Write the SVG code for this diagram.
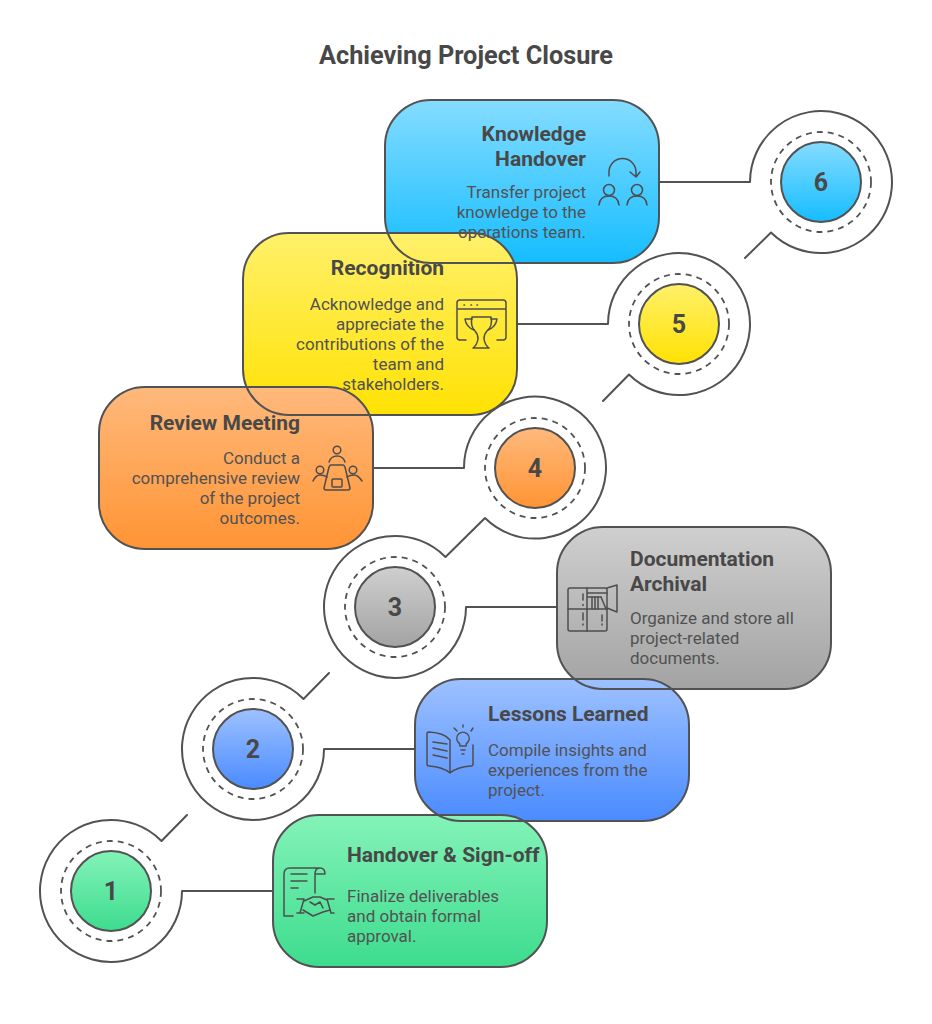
<svg xmlns="http://www.w3.org/2000/svg" width="932" height="1024" viewBox="0 0 932 1024">
<defs>
<linearGradient id="gGreen" x1="0" y1="0" x2="0" y2="1"><stop offset="0" stop-color="#84f3b8"/><stop offset="1" stop-color="#3ddc8e"/></linearGradient>
<linearGradient id="gBlue" x1="0" y1="0" x2="0" y2="1"><stop offset="0" stop-color="#9dc1ff"/><stop offset="1" stop-color="#4a8bff"/></linearGradient>
<linearGradient id="gGray" x1="0" y1="0" x2="0" y2="1"><stop offset="0" stop-color="#cfcfcf"/><stop offset="1" stop-color="#a3a3a3"/></linearGradient>
<linearGradient id="gOrange" x1="0" y1="0" x2="0" y2="1"><stop offset="0" stop-color="#ffb97c"/><stop offset="1" stop-color="#ff9434"/></linearGradient>
<linearGradient id="gYellow" x1="0" y1="0" x2="0" y2="1"><stop offset="0" stop-color="#fff06a"/><stop offset="1" stop-color="#ffe203"/></linearGradient>
<linearGradient id="gCyan" x1="0" y1="0" x2="0" y2="1"><stop offset="0" stop-color="#85dcff"/><stop offset="1" stop-color="#15bdff"/></linearGradient>
</defs>
<style>
.ln{fill:none;stroke:#525252;stroke-width:2;stroke-linecap:round;stroke-linejoin:round}
.ic{fill:none;stroke:#4d4d4d;stroke-width:1.5;stroke-linecap:round;stroke-linejoin:round}
.dash{fill:none;stroke:#525252;stroke-width:1.8;stroke-dasharray:6 5}
.c{stroke:#525252;stroke-width:2}
.t{font-family:Roboto,"Liberation Sans",sans-serif;font-weight:700;font-size:21px;fill:#484848}
.d{font-family:Roboto,"Liberation Sans",sans-serif;font-size:17px;fill:#525252}
.n{font-family:Roboto,"Liberation Sans",sans-serif;font-weight:700;font-size:25px;fill:#484848;text-anchor:middle}
.e{text-anchor:end}
</style>
<rect width="932" height="1024" fill="#fff"/>
<text x="466" y="64" text-anchor="middle" style="font-family:Roboto,'Liberation Sans',sans-serif;font-weight:700;font-size:25.300px;fill:#484848">Achieving Project Closure</text>

<g id="card-fills">
<rect x="385" y="100" width="274" height="163" rx="46" fill="url(#gCyan)"/>
<rect x="243" y="233" width="274" height="182" rx="46" fill="url(#gYellow)"/>
<rect x="99" y="387" width="274" height="162" rx="46" fill="url(#gOrange)"/>
<rect x="557" y="527" width="274" height="162" rx="46" fill="url(#gGray)"/>
<rect x="415" y="679" width="274" height="142" rx="46" fill="url(#gBlue)"/>
<rect x="273" y="815" width="274" height="152" rx="46" fill="url(#gGreen)"/>
</g>

<g id="connectors">
<path class="ln" d="M273 891H182A71 71 0 1 1 161.500 841L187 815"/>
<path class="ln" d="M415 749H324A71 71 0 1 1 303.500 699L329 673"/>
<path class="ln" d="M557 607H466A71 71 0 1 1 445.500 557L485 518A71 71 0 1 0 464 468H373"/>
<path class="ln" d="M517 324H608A71 71 0 1 1 629 374.500L603 401"/>
<path class="ln" d="M659 182H750A71 71 0 1 1 771 232.500L745 258"/>
</g>

<g id="node-1">
<rect x="273" y="815" width="274" height="152" rx="46" class="ln"/>
<circle class="dash" cx="111" cy="891" r="50"/>
<circle class="c" cx="111" cy="891" r="40" fill="url(#gGreen)"/>
<text class="n" x="111" y="900">1</text>
<text class="t" x="347" y="862">Handover &amp; Sign-off</text>
<text class="d" x="347" y="902">Finalize deliverables</text>
<text class="d" x="347" y="922">and obtain formal</text>
<text class="d" x="347" y="942">approval.</text>
<g class="ic"><path d="M293 916H284V874Q284 868 290 868H320Q325 868 325 874H315M315 874Q315 868 320 868M315 874V893"/><path d="M291 874H307M291 881H307M291 888H298"/><path d="M297 899H304L300 913H297M304 913H300M334 899H327L331 913H334"/><path d="M304 901L313 897H320L327 900M303 910L313 916L323 912L330 910"/><path d="M310 902L315 905L320 902L323 908"/></g>
</g>

<g id="node-2">
<rect x="415" y="679" width="274" height="142" rx="46" class="ln"/>
<circle class="dash" cx="253" cy="749" r="50"/>
<circle class="c" cx="253" cy="749" r="40" fill="url(#gBlue)"/>
<text class="n" x="253" y="758">2</text>
<text class="t" x="488" y="721">Lessons Learned</text>
<text class="d" x="488" y="756">Compile insights and</text>
<text class="d" x="488" y="776">experiences from the</text>
<text class="d" x="488" y="796">project.</text>
<g class="ic"><path d="M450 740V772M450 740Q445 733 429 732Q427 732 427 734V764Q427 766 429 766Q443 767 450 773Q457 767 471 766Q473 766 473 764V745"/><path d="M433 742L447 744M433 748L447 751M433 755L447 758"/><path d="M460 746Q460 743 458 742A6.200 6.200 0 1 1 468 742Q466 743 466 746Z"/><path d="M461 750H465M462 754H464M463 725V727M454 728L457 731M473 728L471 731"/></g>
</g>

<g id="node-3">
<rect x="557" y="527" width="274" height="162" rx="46" class="ln"/>
<circle class="dash" cx="395" cy="607" r="50"/>
<circle class="c" cx="395" cy="607" r="40" fill="url(#gGray)"/>
<text class="n" x="395" y="616">3</text>
<text class="t" x="630" y="566">Documentation</text>
<text class="t" x="630" y="591">Archival</text>
<text class="d" x="630" y="624">Organize and store all</text>
<text class="d" x="630" y="644">project-related</text>
<text class="d" x="630" y="664">documents.</text>
<g class="ic"><rect x="568" y="588" width="39" height="43" rx="2"/><path d="M568 609H607M587 588V631M587 593H607M587 597H601M607 588L617 585V612L607 608"/><path d="M592 597V609M595 597V609M598 597V609M601 597L606 609"/><path d="M583 594V600M583 604.500V605.500M583 613V620M583 624V625M602 615V621M602 624V625"/></g>
</g>

<g id="node-4">
<rect x="99" y="387" width="274" height="162" rx="46" class="ln"/>
<circle class="dash" cx="535" cy="468" r="50"/>
<circle class="c" cx="535" cy="468" r="40" fill="url(#gOrange)"/>
<text class="n" x="535" y="477">4</text>
<text class="t e" x="300" y="430">Review Meeting</text>
<text class="d e" x="300" y="464">Conduct a</text>
<text class="d e" x="300" y="484">comprehensive review</text>
<text class="d e" x="300" y="504">of the project</text>
<text class="d e" x="300" y="524">outcomes.</text>
<g class="ic"><circle cx="337" cy="450" r="3.800"/><path d="M329 462Q331 456 337 456Q343 456 345 462"/><path d="M331 465H343Q344 465 345 467L350 488Q350 490 348 490H326Q324 490 324 488L329 467Q330 465 331 465Z"/><rect x="332" y="479" width="10" height="8" rx="1"/><circle cx="320" cy="470" r="3.800"/><path d="M313 481Q316 475 320 475Q324 475 327 477"/><circle cx="353" cy="470" r="3.800"/><path d="M347 477Q350 475 354 475Q358 475 362 481"/></g>
</g>

<g id="node-5">
<rect x="243" y="233" width="274" height="182" rx="46" class="ln"/>
<circle class="dash" cx="679" cy="324" r="50"/>
<circle class="c" cx="679" cy="324" r="40" fill="url(#gYellow)"/>
<text class="n" x="679" y="333">5</text>
<text class="t e" x="444" y="275">Recognition</text>
<text class="d e" x="444" y="310">Acknowledge and</text>
<text class="d e" x="444" y="330">appreciate the</text>
<text class="d e" x="444" y="350">contributions of the</text>
<text class="d e" x="444" y="370">team and</text>
<text class="d e" x="444" y="390">stakeholders.</text>
<g class="ic"><path d="M466 340H460Q457 340 457 337V303Q457 300 460 300H503Q506 300 506 303V337Q506 340 503 340H497M457 309H506"/><path d="M464 305H464.500M471 305H471.500M477 305H477.500"/><path d="M472 317H491Q493 326 487 331Q484 334 484 339Q485 345 489 348H473Q477 345 478 339Q478 334 475 331Q470 326 472 317Z"/><path d="M472 319H465Q466 327 474 330M491 319H497Q496 327 488 330"/></g>
</g>

<g id="node-6">
<rect x="385" y="100" width="274" height="163" rx="46" class="ln"/>
<circle class="dash" cx="821" cy="182" r="50"/>
<circle class="c" cx="821" cy="182" r="40" fill="url(#gCyan)"/>
<text class="n" x="821" y="191">6</text>
<text class="t e" x="586" y="141">Knowledge</text>
<text class="t e" x="586" y="166">Handover</text>
<text class="d e" x="586" y="198">Transfer project</text>
<text class="d e" x="586" y="218">knowledge to the</text>
<text class="d e" x="586" y="238">operations team.</text>
<g class="ic"><path d="M609 176V172A13.500 13.500 0 0 1 636 172V177M630 172L636 177L640 172"/><circle cx="609" cy="190" r="5.500"/><path d="M599 205Q600 196 609 196Q618 196 619 205"/><circle cx="637" cy="190" r="5.500"/><path d="M627 205Q628 196 637 196Q646 196 647 205"/></g>
</g>
</svg>
